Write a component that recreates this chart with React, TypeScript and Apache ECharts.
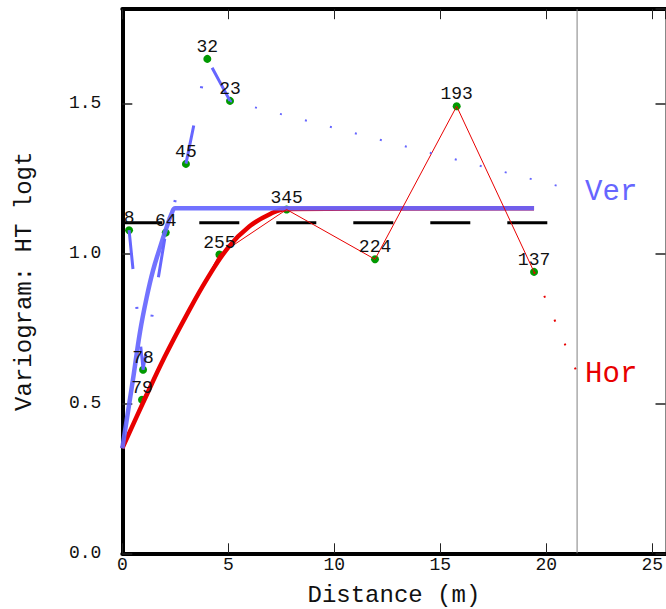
import React, { useEffect, useRef } from "react";
import * as echarts from "echarts";

const verDist = [0.32, 0.98, 2.05, 3.0, 4.01, 5.08];
const verGamma = [1.077, 0.612, 1.069, 1.298, 1.648, 1.508];
const verPairs = [8, 78, 64, 45, 32, 23];

const horDist = [0.93, 4.58, 7.75, 11.92, 15.77, 19.42];
const horGamma = [0.512, 0.996, 1.146, 0.98, 1.49, 0.938];
const horPairs = [79, 255, 345, 224, 193, 137];

// Continuation of the experimental lines up to the distance limit
const limitDist = 21.45;
const verTailGamma = 1.208;
const horTailGamma = 0.602;

// Fitted model curves
const verModelDist = [0, 0.5, 0.84, 1.15, 1.45, 1.78, 2.09, 2.33, 2.5, 19.42];
const verModelGamma = [0.35, 0.578, 0.74, 0.853, 0.943, 1.02, 1.087, 1.133, 1.15, 1.15];
const horModelDist = [0, 1, 2, 3, 4, 5, 6, 7, 7.75, 19.42];
const horModelGamma = [0.35, 0.505, 0.655, 0.79, 0.915, 1.02, 1.09, 1.132, 1.148, 1.15];

// Sample variance (sill)
const sillValue = 1.102;

const xMin = 0;
const xMax = 25.62;
const xInterval = 5;
const yMin = 0;
const yMax = 1.8137;
const yInterval = 0.5;

const FONT = "'Courier New', 'Liberation Mono', monospace";
const BLUE = "#6666ff";
const RED = "#e80000";
const GREEN = "#009900";
const TEXT = "#111";

const zip = (xs: number[], ys: number[]) => xs.map((x, i) => [x, ys[i]]);

export default function App() {
  const ref = useRef<HTMLDivElement>(null);

  useEffect(() => {
    if (!ref.current) return;
    const chart = echarts.init(ref.current, undefined, { renderer: "svg" });

    const pointData = [
      ...verDist.map((d, i) => [d, verGamma[i], verPairs[i]]),
      ...horDist.map((d, i) => [d, horGamma[i], horPairs[i]]),
    ];

    const baseX = (position: "bottom" | "top", labels: boolean) => ({
      type: "value",
      position,
      min: xMin,
      max: xMax,
      interval: xInterval,
      axisLine: { show: true, onZero: false, lineStyle: { color: "#000", width: 4 } },
      axisTick: { show: true, inside: true, length: 10, lineStyle: { color: "#222", width: 1 } },
      axisLabel: {
        show: labels,
        showMaxLabel: false,
        margin: 3,
        color: TEXT,
        fontSize: 18,
        fontFamily: FONT,
      },
      splitLine: { show: false },
    });

    const baseY = (position: "left" | "right", labels: boolean) => ({
      type: "value",
      position,
      min: yMin,
      max: yMax,
      interval: yInterval,
      axisLine: {
        show: true,
        onZero: false,
        lineStyle: position === "left" ? { color: "#000", width: 4 } : { color: "#888", width: 1 },
      },
      axisTick: { show: true, inside: true, length: 10, lineStyle: { color: "#222", width: 1.5 } },
      axisLabel: {
        show: labels,
        showMaxLabel: false,
        margin: 21,
        color: TEXT,
        fontSize: 18,
        fontFamily: FONT,
        formatter: (v: number) => v.toFixed(1),
      },
      splitLine: { show: false },
    });

    chart.setOption({
      animation: false,
      backgroundColor: "#fff",
      grid: {
        left: 122.3,
        top: 9.2,
        width: 543.2,
        height: 544.1,
        containLabel: false,
        outerBoundsMode: "none",
      },
      xAxis: [
        {
          ...baseX("bottom", true),
          name: "Distance (m)",
          nameLocation: "middle",
          nameGap: 30,
          nameTextStyle: { fontSize: 24, fontFamily: FONT, color: TEXT },
        },
        { ...baseX("top", false) },
      ],
      yAxis: [
        {
          ...baseY("left", true),
          name: "Variogram: HT logt",
          nameLocation: "middle",
          nameGap: 86,
          nameTextStyle: { fontSize: 24, fontFamily: FONT, color: TEXT },
        },
        { ...baseY("right", false) },
      ],
      series: [
        // green markers (under the lines)
        {
          type: "scatter",
          xAxisIndex: 0,
          yAxisIndex: 0,
          z: 1,
          symbol: "circle",
          symbolSize: 8,
          itemStyle: { color: GREEN, opacity: 1 },
          data: pointData,
          silent: true,
        },
        // distance limit
        {
          type: "line",
          z: 2,
          symbol: "none",
          lineStyle: { color: "#808080", width: 1 },
          data: [
            [limitDist, yMin],
            [limitDist, yMax],
          ],
        },
        // sill
        {
          type: "line",
          z: 2,
          symbol: "none",
          lineStyle: { color: "#000", width: 3, type: [40, 37], cap: "butt" },
          data: [
            [0, sillValue],
            [limitDist, sillValue],
          ],
        },
        // horizontal model
        {
          type: "line",
          z: 3,
          symbol: "none",
          smooth: 0.4,
          lineStyle: { color: RED, width: 4.5 },
          data: zip(horModelDist, horModelGamma),
        },
        // vertical model
        {
          type: "line",
          z: 3,
          symbol: "none",
          smooth: 0.4,
          lineStyle: { color: BLUE, width: 4.5, opacity: 0.92 },
          data: zip(verModelDist, verModelGamma),
        },
        // horizontal experimental
        {
          type: "line",
          z: 4,
          symbol: "none",
          lineStyle: { color: RED, width: 1 },
          data: zip(horDist, horGamma),
        },
        {
          type: "line",
          z: 4,
          symbol: "none",
          lineStyle: { color: RED, width: 2, type: [2, 24], cap: "butt" },
          data: [
            [horDist[horDist.length - 1], horGamma[horGamma.length - 1]],
            [limitDist, horTailGamma],
          ],
          endLabel: {
            show: true,
            formatter: "Hor",
            color: RED,
            fontSize: 29,
            fontFamily: FONT,
            distance: 8,
            offset: [0, 2],
          },
        },
        // vertical experimental
        {
          type: "line",
          z: 4,
          symbol: "none",
          lineStyle: { color: BLUE, width: 3, type: [39, 38, 2, 38], cap: "butt" },
          data: zip(verDist, verGamma),
        },
        {
          type: "line",
          z: 4,
          symbol: "none",
          lineStyle: { color: BLUE, width: 2, type: [2, 23.8], cap: "butt" },
          data: [
            [verDist[verDist.length - 1], verGamma[verGamma.length - 1]],
            [limitDist, verTailGamma],
          ],
          endLabel: {
            show: true,
            formatter: "Ver",
            color: BLUE,
            fontSize: 29,
            fontFamily: FONT,
            distance: 8,
            offset: [0, 2],
          },
        },
        // pair-count labels (on top)
        {
          type: "scatter",
          z: 10,
          symbol: "circle",
          symbolSize: 1,
          itemStyle: { color: "rgba(0,0,0,0)", opacity: 1 },
          data: pointData,
          silent: true,
          label: {
            show: true,
            position: "inside",
            offset: [0, -12],
            color: TEXT,
            fontSize: 18,
            fontFamily: FONT,
            formatter: (p: any) => String(p.value[2]),
          },
        },
      ],
    });

    return () => chart.dispose();
  }, []);

  return (
    <div
      style={{
        position: "fixed",
        left: 0,
        top: 0,
        width: 666,
        height: 609,
        overflow: "hidden",
        background: "#fff",
      }}
    >
      <div ref={ref} style={{ width: 666, height: 609 }} />
    </div>
  );
}
